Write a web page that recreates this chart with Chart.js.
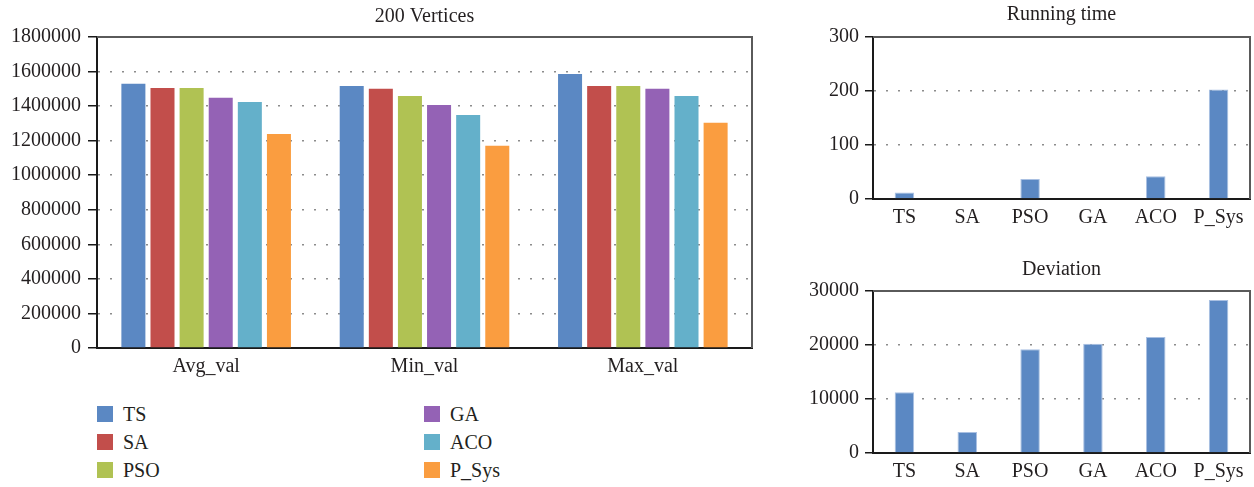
<!DOCTYPE html>
<html>
<head>
<meta charset="utf-8">
<script src="https://cdn.jsdelivr.net/npm/chart.js@4.4.1/dist/chart.umd.min.js"></script>
<style>
  html, body { margin: 0; padding: 0; background: #fff; }
  body { width: 1254px; height: 487px; position: relative; overflow: hidden; font-family: 'Liberation Serif', serif; }
  canvas { position: absolute; }
  #legend { position: absolute; left: 0; top: 0; }
  .lg { position: absolute; height: 16px; display: flex; align-items: center; font-size: 20px; color: #231f20; white-space: nowrap; }
  .lg span.sw { display: inline-block; width: 16px; height: 16px; margin-right: 10px; }
</style>
</head>
<body>
<canvas id="main" width="770" height="390" style="left:0;top:0"></canvas>
<canvas id="rt" width="454" height="240" style="left:800px;top:0"></canvas>
<canvas id="dev" width="454" height="233" style="left:800px;top:254px"></canvas>
<div id="legend"></div>
<script>
// ---------- data ----------
const groupCategories = ['Avg_val', 'Min_val', 'Max_val'];
const seriesNames = ['TS', 'SA', 'PSO', 'GA', 'ACO', 'P_Sys'];
const seriesColors = ['#5B88C3', '#C24E4B', '#B0C253', '#9462B5', '#64B0CA', '#FA9D40'];
const tsValues   = [1529000, 1517000, 1586000];
const saValues   = [1505000, 1500000, 1517000];
const psoValues  = [1505000, 1459000, 1517000];
const gaValues   = [1448000, 1407000, 1500000];
const acoValues  = [1424000, 1349000, 1459000];
const psysValues = [1239000, 1170000, 1303000];
const mainSeries = [tsValues, saValues, psoValues, gaValues, acoValues, psysValues];

const algoCategories = ['TS', 'SA', 'PSO', 'GA', 'ACO', 'P_Sys'];
const runningTime = [12, 1.5, 37, 1.5, 42, 203];
const deviation = [11240, 3900, 19200, 20240, 21480, 28330];

const mainTicks = { min: 0, max: 1800000, step: 200000 };
const rtTicks = { min: 0, max: 300, step: 100 };
const devTicks = { min: 0, max: 30000, step: 10000 };

// ---------- style helpers ----------
const FONT = 'Liberation Serif';
const TXT = '#231f20';

const framePlugin = {
  id: 'frame',
  afterDatasetsDraw(chart) {
    const { ctx, chartArea: a } = chart;
    ctx.save();
    ctx.strokeStyle = '#5a5a5a';
    ctx.lineWidth = 2;
    ctx.beginPath();
    ctx.moveTo(a.left, a.top);
    ctx.lineTo(a.right, a.top);
    ctx.lineTo(a.right, a.bottom);
    ctx.stroke();
    ctx.restore();
  }
};

function makeOptions(cfg) {
  return {
    responsive: false,
    animation: false,
    layout: { padding: { left: 0, right: cfg.padRight, top: 0, bottom: 0 } },
    plugins: {
      legend: { display: false },
      tooltip: { enabled: false },
      title: {
        display: true,
        text: cfg.title,
        fullSize: false,
        color: TXT,
        font: { family: FONT, size: 20, weight: 'normal', lineHeight: 1.2 },
        padding: { top: cfg.titleTop, bottom: cfg.titleBottom }
      }
    },
    scales: {
      x: {
        grid: { display: true, drawOnChartArea: false, drawTicks: false },
        border: { display: true, color: '#1a1a1a', width: 2 },
        ticks: { color: TXT, font: { family: FONT, size: 20 }, padding: 7, maxRotation: 0, autoSkip: false },
        afterFit(scale) { scale.height = cfg.xHeight; }
      },
      y: {
        min: cfg.ticks.min,
        max: cfg.ticks.max,
        grid: {
          color: '#8c8c8c',
          lineWidth: 1.5,
          drawTicks: true,
          tickLength: cfg.tickLength,
          tickColor: '#1a1a1a',
          tickWidth: 1.5,
          tickBorderDash: [1, 0]
        },
        border: { display: true, color: '#1a1a1a', width: 2, dash: [2, 10], dashOffset: 0 },
        ticks: {
          stepSize: cfg.ticks.step,
          color: TXT,
          padding: cfg.tickPad,
          font: { family: FONT, size: 20 },
          callback: v => String(v)
        },
        afterFit(scale) { scale.width = cfg.yWidth; }
      }
    }
  };
}

// ---------- main grouped chart ----------
new Chart(document.getElementById('main'), {
  type: 'bar',
  data: {
    labels: groupCategories,
    datasets: seriesNames.map((name, i) => ({
      label: name,
      data: mainSeries[i],
      backgroundColor: seriesColors[i],
      borderWidth: 0,
      categoryPercentage: 0.8,
      barPercentage: 0.825
    }))
  },
  options: makeOptions({ title: '200 Vertices', padRight: 18, titleTop: 5, titleBottom: 8,
    xHeight: 42, yWidth: 97, tickLength: 9, tickPad: 7, ticks: mainTicks }),
  plugins: [framePlugin]
});

// ---------- running time ----------
new Chart(document.getElementById('rt'), {
  type: 'bar',
  data: {
    labels: algoCategories,
    datasets: [{
      label: 'Running time',
      data: runningTime,
      backgroundColor: seriesColors[0],
      borderColor: '#a9c0e2',
      borderWidth: 1,
      categoryPercentage: 1,
      barPercentage: 0.31
    }]
  },
  options: makeOptions({ title: 'Running time', padRight: 4, titleTop: 3, titleBottom: 10,
    xHeight: 41, yWidth: 73, tickLength: 8, tickPad: 6, ticks: rtTicks }),
  plugins: [framePlugin]
});

// ---------- deviation ----------
new Chart(document.getElementById('dev'), {
  type: 'bar',
  data: {
    labels: algoCategories,
    datasets: [{
      label: 'Deviation',
      data: deviation,
      backgroundColor: seriesColors[0],
      borderColor: '#a9c0e2',
      borderWidth: 1,
      categoryPercentage: 1,
      barPercentage: 0.31
    }]
  },
  options: makeOptions({ title: 'Deviation', padRight: 4, titleTop: 4, titleBottom: 9,
    xHeight: 34, yWidth: 73, tickLength: 8, tickPad: 6, ticks: devTicks }),
  plugins: [framePlugin]
});

// ---------- legend (two columns, three rows) ----------
const legend = document.getElementById('legend');
const colX = [97, 424];
const rowY = [406, 434, 462];
seriesNames.forEach((name, i) => {
  const col = Math.floor(i / 3), row = i % 3;
  const d = document.createElement('div');
  d.className = 'lg';
  d.style.left = colX[col] + 'px';
  d.style.top = rowY[row] + 'px';
  d.innerHTML = '<span class="sw" style="background:' + seriesColors[i] + '"></span>' + name;
  legend.appendChild(d);
});
</script>
</body>
</html>
